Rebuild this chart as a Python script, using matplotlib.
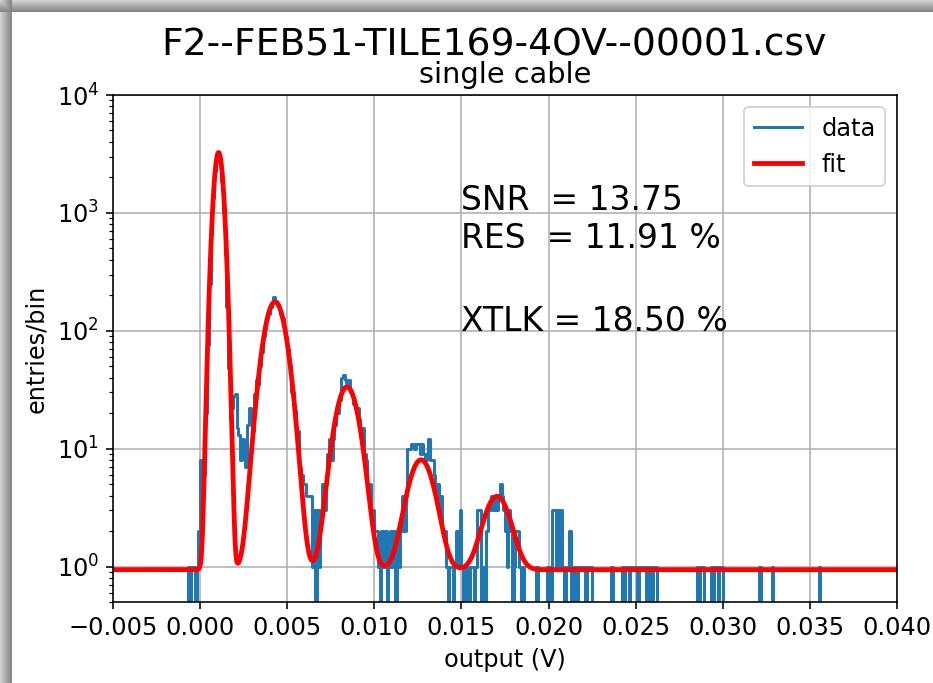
import numpy as np
import matplotlib
matplotlib.use("Agg")
import matplotlib.pyplot as plt

# histogram of the scope output, 0.1 mV bins, one row of ten bins per mV
bin_width = 0.0001
first_edge = -0.001
entries = [
    0, 0, 0, 1, 0, 1, 1, 0, 1, 2,                      # -0.001
    8, 5, 6, 20, 75, 250, 650, 1350, 2250, 3050,        # 0.000
    3200, 2780, 1880, 1020, 440, 160, 48, 18, 22, 28,   # 0.001
    29, 15, 13, 8, 12, 9, 7, 16, 22, 20,                # 0.002
    14, 29, 38, 35, 50, 66, 90, 104, 128, 140,          # 0.003
    160, 172, 192, 180, 166, 160, 138, 128, 104, 88,    # 0.004
    70, 50, 30, 30, 21, 14, 14, 7, 6, 5,                # 0.005
    5, 4, 4, 4, 1, 3, 0, 3, 1, 3,                       # 0.006
    5, 3, 5, 9, 12, 8, 12, 16, 22, 20,                  # 0.007
    26, 40, 42, 38, 36, 38, 30, 29, 24, 22,             # 0.008
    22, 18, 14, 15, 9, 8, 5, 5, 3, 3,                   # 0.009
    2, 2, 1, 0, 2, 1, 2, 0, 1, 2,                       # 0.010
    1, 2, 0, 2, 1, 2, 4, 2, 4, 10,                      # 0.011
    10, 11, 11, 10, 11, 11, 9, 11, 9, 8,                # 0.012
    9, 12, 8, 8, 6, 4, 5, 3, 4, 2,                      # 0.013
    2, 1, 0, 1, 1, 0, 1, 2, 1, 3,                       # 0.014
    1, 0, 1, 1, 0, 1, 1, 0, 1, 3,                       # 0.015
    3, 0, 1, 0, 2, 3, 3, 4, 3, 4,                       # 0.016
    3, 4, 5, 4, 3, 2, 1, 3, 2, 0,                       # 0.017
    1, 2, 2, 1, 0, 1, 0, 0, 0, 0,                       # 0.018
    0, 0, 0, 1, 0, 0, 0, 0, 0, 1,                       # 0.019
    1, 0, 3, 3, 1, 3, 1, 3, 1, 0,                       # 0.020
    1, 1, 2, 0, 1, 1, 0, 1, 1, 1,                       # 0.021
    1, 0, 1, 1, 1, 0, 0, 0, 0, 0,                       # 0.022
    0, 0, 0, 0, 0, 0, 1, 0, 0, 0,                       # 0.023
    0, 0, 1, 0, 1, 1, 0, 1, 1, 1,                       # 0.024
    1, 0, 1, 1, 1, 1, 0, 1, 1, 0,                       # 0.025
    1, 1, 0, 0, 0, 0, 0, 0, 0, 0,                       # 0.026
    0, 0, 0, 0, 0, 0, 0, 0, 0, 0,                       # 0.027
    0, 0, 0, 0, 0, 1, 0, 1, 1, 0,                       # 0.028
    0, 0, 0, 1, 0, 1, 1, 0, 1, 1,                       # 0.029
    0, 0, 0, 0, 0, 0, 0, 0, 0, 0,                       # 0.030
    0, 0, 0, 0, 0, 0, 0, 0, 0, 0,                       # 0.031
    0, 1, 0, 0, 0, 0, 0, 0, 1, 0,                       # 0.032
    0, 0, 0, 0, 0, 0, 0, 0, 0, 0,                       # 0.033
    0, 0, 0, 0, 0, 0, 0, 0, 0, 0,                       # 0.034
    0, 0, 0, 0, 0, 1, 0, 0, 0, 0,                       # 0.035
]

# multi-gaussian fit: one peak per photo-electron plus a flat floor
fit_floor = 0.94
fit_mean = [0.00106, 0.00430, 0.00843, 0.01268, 0.01704]
fit_amp = [3250, 175, 32.5, 7.1, 3.0]
fit_sigma = [0.00023, 0.00055, 0.00058, 0.00065, 0.00066]

snr, res, xtlk = 13.75, 11.91, 18.50

edges = first_edge + bin_width * np.arange(len(entries) + 1)

xfit = np.linspace(-0.005, 0.040, 4000)
yfit = np.full_like(xfit, fit_floor)
for mu, amp, sig in zip(fit_mean, fit_amp, fit_sigma):
    yfit += amp * np.exp(-(xfit - mu) ** 2 / (2 * sig ** 2))

plt.rcParams["font.size"] = 12

W, H, DPI = 933, 683, 144
fig = plt.figure(figsize=(W / DPI, H / DPI), dpi=DPI)

# grey window edge along the top and left
bg = np.ones((H, W, 3))
shade = np.linspace(0.82, 0.52, 12)
bg[:12, :, :] = shade[:, None, None]
bg[:, :12, :] = np.minimum(bg[:, :12, :], shade[None, :, None])
fig.figimage(bg, xo=0, yo=0, zorder=-10)

ax = fig.add_axes([113 / W, 1 - 602 / H, 784 / W, 507 / H])
ax.step(edges, np.append(entries, entries[-1]), where="post",
        color="C0", lw=1.5, label="data")
ax.plot(xfit, yfit, color="red", lw=2.4, label="fit")

ax.set_yscale("log")
ax.set_xlim(-0.005, 0.040)
ax.set_ylim(0.5, 1e4)
ax.set_xticks(np.arange(-0.005, 0.0401, 0.005))
ax.grid(True)

# multi-line text sits on the baseline of its last line
ax.text(0.015, 503, "SNR  = %.2f\nRES  = %.2f %%" % (snr, res), fontsize=16.5)
ax.text(0.015, 100, "XTLK = %.2f %%" % xtlk, fontsize=16.5)

ax.set_xlabel("output (V)")
ax.set_ylabel("entries/bin")
ax.set_title("single cable")
fig.text(493.5 / W, 1 - 55 / H, "F2--FEB51-TILE169-4OV--00001.csv",
         fontsize=18.8, ha="center", va="baseline")
ax.legend(loc="upper right")

fig.savefig("out.png", dpi=DPI)
